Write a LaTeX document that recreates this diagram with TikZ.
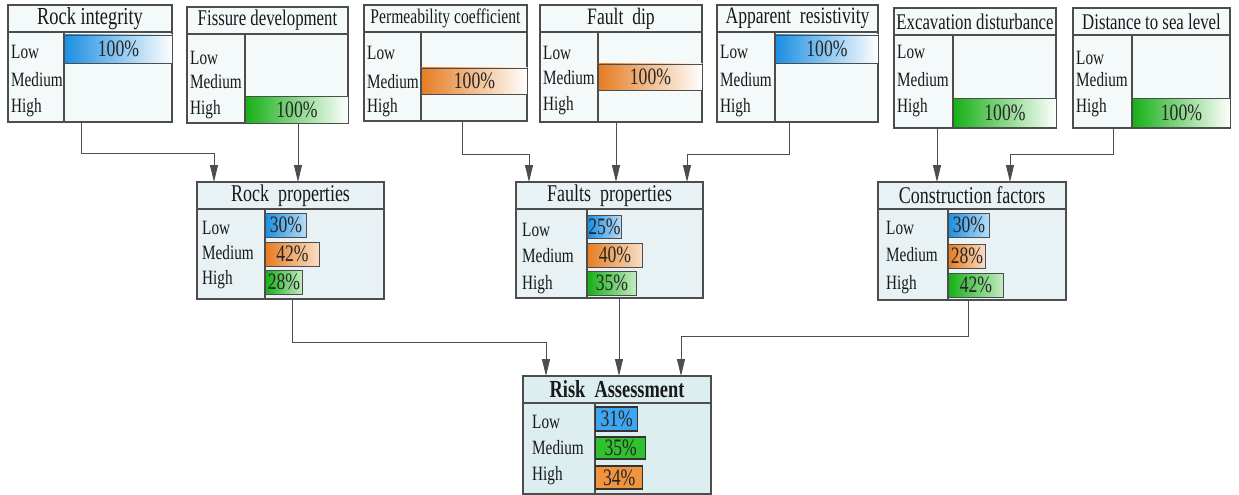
\documentclass[tikz,border=0pt]{standalone}
\usepackage{fontspec}
\setmainfont{Liberation Serif}[FakeStretch=0.75]
\usepackage{tikz}
\usetikzlibrary{arrows.meta,positioning,calc}
\definecolor{linegray}{HTML}{4D4D4D}
\definecolor{topfill}{HTML}{F4F9FA}
\definecolor{midfill}{HTML}{E8F2F4}
\definecolor{riskfill}{HTML}{DDEEF0}
\definecolor{lowblue}{HTML}{1B8FE2}
\definecolor{midorange}{HTML}{E67D22}
\definecolor{highgreen}{HTML}{16B016}
\definecolor{riskblue}{HTML}{3EA6F0}
\definecolor{riskgreen}{HTML}{2EC22E}
\definecolor{riskorange}{HTML}{F09440}
\newcommand{\boxtitlefont}{\fontsize{23.5}{26}\selectfont}
\newcommand{\smalltitlefont}{\fontsize{22.4}{25}\selectfont}
\newcommand{\midtitlefont}{\fontsize{24}{26}\selectfont}
\newcommand{\rowfont}{\fontsize{20.3}{22}\selectfont}
\newcommand{\pctfont}{\fontsize{23.5}{25}\selectfont}
\tikzstyle{Title} = [rectangle, draw=linegray, line width=1.2pt, fill=topfill, minimum height=27pt, inner sep=0pt, outer sep=0pt, font=\boxtitlefont, text=black!90]
\tikzstyle{Body} = [rectangle, draw=linegray, line width=1.2pt, fill=topfill, inner sep=0pt, outer sep=0pt]
\tikzstyle{Row} = [anchor=west, inner sep=0pt, font=\rowfont, text=black!90]
\tikzstyle{Bar} = [rectangle, draw=linegray, line width=0.9pt, anchor=west, inner sep=0pt, minimum height=27pt, font=\pctfont, text=black!85]
\tikzstyle{Divider} = [draw=linegray, line width=1.2pt]
\tikzstyle{arrow} = [draw=linegray, line width=1pt, -{Triangle[length=17pt,width=8pt]}]

\begin{document}
\begin{tikzpicture}[x=1pt, y=-1pt]
\useasboundingbox (0,0) rectangle (1239,495);

\node (RIt)[Title, minimum width=164pt, anchor=north west, font=\fontsize{24.5}{26}\selectfont] at (8,5) {Rock integrity};
\node (RI)[Body, minimum width=164pt, minimum height=90pt, below=0pt of RIt] {};
\draw[Divider] (64,32) -- (64,122);
\node (RIlow)[Bar, left color=lowblue, right color=white, minimum width=108pt, minimum height=28pt] at (64,49) {100\%};
\node[Row] at (11,52) {Low};
\node[Row] at (11,80) {Medium};
\node[Row] at (11,108) {High};

\node (FDt)[Title, minimum width=161pt, anchor=north west, font=\smalltitlefont] at (187,7) {Fissure development};
\node (FD)[Body, minimum width=161pt, minimum height=89pt, below=0pt of FDt] {};
\draw[Divider] (245,34) -- (245,123);
\node (FDhigh)[Bar, left color=highgreen, right color=white, minimum width=103pt] at (245,109.5) {100\%};
\node[Row] at (190,58) {Low};
\node[Row] at (190,82) {Medium};
\node[Row] at (190,110) {High};

\node (PCt)[Title, minimum width=163pt, anchor=north west, font=\fontsize{20.8}{23}\selectfont] at (364,5) {Permeability coefficient};
\node (PC)[Body, minimum width=163pt, minimum height=89pt, below=0pt of PCt] {};
\draw[Divider] (421,32) -- (421,121);
\node (PCmed)[Bar, left color=midorange, right color=white, minimum width=106pt, minimum height=26pt] at (421,81) {100\%};
\node[Row] at (367,53) {Low};
\node[Row] at (367,82) {Medium};
\node[Row] at (367,108) {High};

\node (FPt)[Title, minimum width=162pt, anchor=north west] at (540,5) {Fault\ \ dip};
\node (FDp)[Body, minimum width=162pt, minimum height=90pt, below=0pt of FPt] {};
\draw[Divider] (598,32) -- (598,122);
\node (FDpmed)[Bar, left color=midorange, right color=white, minimum width=104pt, minimum height=26pt] at (598,77) {100\%};
\node[Row] at (543,53) {Low};
\node[Row] at (543,78) {Medium};
\node[Row] at (543,106) {High};

\node (ARt)[Title, minimum width=161pt, anchor=north west] at (717,5) {Apparent\ \ resistivity};
\node (AR)[Body, minimum width=161pt, minimum height=90pt, below=0pt of ARt] {};
\draw[Divider] (775,32) -- (775,122);
\node (ARlow)[Bar, left color=lowblue, right color=white, minimum width=103pt, minimum height=28pt] at (775,49) {100\%};
\node[Row] at (720,52) {Low};
\node[Row] at (720,80) {Medium};
\node[Row] at (720,108) {High};

\node (EDt)[Title, minimum width=162pt, anchor=north west, font=\smalltitlefont] at (894,8) {Excavation disturbance};
\node (ED)[Body, minimum width=162pt, minimum height=93pt, below=0pt of EDt] {};
\draw[Divider] (953,35) -- (953,128);
\node (EDhigh)[Bar, left color=highgreen, right color=white, minimum width=103pt, minimum height=29pt] at (953,113) {100\%};
\node[Row] at (897,52) {Low};
\node[Row] at (897,80) {Medium};
\node[Row] at (897,108) {High};

\node (DSt)[Title, minimum width=157pt, anchor=north west, font=\smalltitlefont] at (1073,8) {Distance to sea level};
\node (DS)[Body, minimum width=157pt, minimum height=93pt, below=0pt of DSt] {};
\draw[Divider] (1132,35) -- (1132,128);
\node (DShigh)[Bar, left color=highgreen, right color=white, minimum width=98pt, minimum height=29pt] at (1132,113) {100\%};
\node[Row] at (1076,58) {Low};
\node[Row] at (1076,80) {Medium};
\node[Row] at (1076,108) {High};

\node (RPt)[Title, fill=midfill, minimum width=187pt, anchor=north west, font=\midtitlefont] at (197,182) {Rock\ \ properties};
\node (RP)[Body, fill=midfill, minimum width=187pt, minimum height=90pt, below=0pt of RPt] {};
\draw[Divider] (265,209) -- (265,299);
\node (RPlow)[Bar, left color=lowblue, right color=lowblue!30, minimum width=41pt, minimum height=24pt] at (265,225) {30\%};
\node (RPmed)[Bar, left color=midorange, right color=midorange!25, minimum width=54pt, minimum height=24pt] at (265,254) {42\%};
\node (RPhigh)[Bar, left color=highgreen, right color=highgreen!25, minimum width=37pt, minimum height=24pt] at (265,282) {28\%};
\node[Row] at (202,228) {Low};
\node[Row] at (202,253) {Medium};
\node[Row] at (202,280) {High};

\node (FSt)[Title, fill=midfill, minimum width=187pt, anchor=north west, font=\midtitlefont] at (516,182) {Faults\ \ properties};
\node (FS)[Body, fill=midfill, minimum width=187pt, minimum height=89pt, below=0pt of FSt] {};
\draw[Divider] (587,209) -- (587,298);
\node (FSlow)[Bar, left color=lowblue, right color=lowblue!30, minimum width=34pt, minimum height=23pt] at (587,226.5) {25\%};
\node (FSmed)[Bar, left color=midorange, right color=midorange!25, minimum width=55pt, minimum height=24pt] at (587,255) {40\%};
\node (FShigh)[Bar, left color=highgreen, right color=highgreen!25, minimum width=49pt, minimum height=24pt] at (587,283) {35\%};
\node[Row] at (522,230) {Low};
\node[Row] at (522,256) {Medium};
\node[Row] at (522,285) {High};

\node (CFt)[Title, fill=midfill, minimum width=188pt, anchor=north west, font=\midtitlefont] at (878,182) {Construction\ factors};
\node (CF)[Body, fill=midfill, minimum width=188pt, minimum height=91pt, below=0pt of CFt] {};
\draw[Divider] (948,209) -- (948,300);
\node (CFlow)[Bar, left color=lowblue, right color=lowblue!30, minimum width=41pt, minimum height=24pt] at (948,225) {30\%};
\node (CFmed)[Bar, left color=midorange, right color=midorange!25, minimum width=37pt, minimum height=24pt] at (948,256) {28\%};
\node (CFhigh)[Bar, left color=highgreen, right color=highgreen!25, minimum width=55pt, minimum height=24pt] at (948,285) {42\%};
\node[Row] at (886,228) {Low};
\node[Row] at (886,255) {Medium};
\node[Row] at (886,285) {High};

\node (RAt)[Title, fill=riskfill, minimum width=188pt, anchor=north west, font=\fontsize{24.5}{26}\selectfont\bfseries] at (523,376) {Risk\ \ Assessment};
\node (RA)[Body, fill=riskfill, minimum width=188pt, minimum height=91pt, below=0pt of RAt] {};
\draw[Divider] (595,403) -- (595,494);
\node (RAlow)[Bar, fill=riskblue, line width=1.3pt, draw=black!80, minimum width=42pt, minimum height=24pt] at (595,419) {31\%};
\node (RAmed)[Bar, fill=riskgreen, line width=1.3pt, draw=black!80, minimum width=50pt, minimum height=22pt] at (595,448) {35\%};
\node (RAhigh)[Bar, fill=riskorange, line width=1.3pt, draw=black!80, minimum width=47pt, minimum height=23pt] at (595,477.5) {34\%};
\node[Row] at (532,422) {Low};
\node[Row] at (532,448) {Medium};
\node[Row] at (532,476) {High};

\coordinate (FDout) at ([xshift=30.5pt]FD.south);
\coordinate (FDpout) at ([xshift=-5pt]FDp.south);
\coordinate (EDout) at ([xshift=-38pt]ED.south);
\coordinate (FSout) at ([xshift=9.5pt]FS.south);

\draw[arrow] ([xshift=-9pt]RI.south) -- ++(0,31) -| ([xshift=-76.5pt]RPt.north);
\draw[arrow] (FDout) -- (FDout |- RPt.north);
\draw[arrow] ([xshift=16.5pt]PC.south) -- ++(0,33) -| ([xshift=-80.5pt]FSt.north);
\draw[arrow] (FDpout) -- (FDpout |- FSt.north);
\draw[arrow] ([xshift=-8.5pt]AR.south) -- ++(0,32) -| ([xshift=77.5pt]FSt.north);
\draw[arrow] (EDout) -- (EDout |- CFt.north);
\draw[arrow] ([xshift=-38.5pt]DS.south) -- ++(0,26) -| ([xshift=38pt]CFt.north);
\draw[arrow] ([xshift=1.5pt]RP.south) -- ++(0,43) -| ([xshift=-71pt]RAt.north);
\draw[arrow] (FSout) -- (FSout |- RAt.north);
\draw[arrow] ([xshift=-4pt]CF.south) -- ++(0,36) -| ([xshift=64pt]RAt.north);

\end{tikzpicture}
\end{document}
